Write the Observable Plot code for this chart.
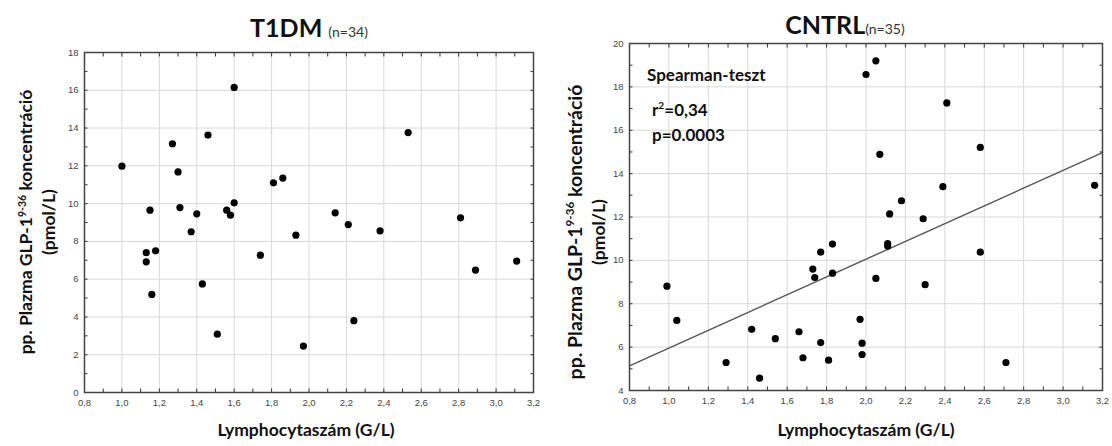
<!DOCTYPE html>
<html>
<head>
<meta charset="utf-8">
<script src="https://cdn.jsdelivr.net/npm/d3@7"></script>
<script src="https://cdn.jsdelivr.net/npm/@observablehq/plot@0.6"></script>
<style>
  html, body { margin: 0; padding: 0; background: #fff; }
  #root { position: relative; width: 1112px; height: 446px; overflow: hidden; font-family: Lato, "Open Sans", sans-serif; }
  .panel { position: absolute; top: 0; }
  .txt { position: absolute; white-space: nowrap; color: #111; }
  .title { font-weight: 700; font-size: 25px; transform: translate(-50%, -50%); }
  .title small { font-weight: 400; font-size: 14px; color: #333; }
  .xlab { font-weight: 700; font-size: 17.5px; transform: translate(-50%, -50%); }
  .ylab { font-weight: 700; text-align: center; line-height: 23px; transform: translate(-50%, -50%) rotate(-90deg); }
  .ann { font-weight: 700; font-size: 17px; transform: translateY(-50%); }
  sup { font-size: 0.6em; vertical-align: 0.6em; line-height: 0; }
</style>
</head>
<body>
<div id="root"></div>
<script>
// ---- Data ----
const t1dmX = [1.00, 1.13, 1.13, 1.18, 1.15, 1.16, 1.27, 1.30, 1.31, 1.37, 1.40, 1.43, 1.46, 1.51, 1.56, 1.58, 1.60, 1.60, 1.74, 1.81, 1.86, 1.93, 1.97, 2.14, 2.21, 2.24, 2.38, 2.53, 2.81, 2.89, 3.11];
const t1dmY = [11.98, 7.40, 6.92, 7.50, 9.65, 5.19, 13.17, 11.68, 9.79, 8.51, 9.46, 5.75, 13.63, 3.09, 9.65, 9.39, 10.04, 16.15, 7.27, 11.10, 11.35, 8.33, 2.46, 9.51, 8.89, 3.80, 8.56, 13.76, 9.25, 6.48, 6.96];

const cntrlX = [0.99, 1.04, 1.29, 1.42, 1.46, 1.54, 1.66, 1.68, 1.73, 1.74, 1.77, 1.77, 1.83, 1.83, 1.81, 1.97, 1.98, 1.98, 2.00, 2.05, 2.07, 2.41, 2.58, 2.39, 3.16, 2.18, 2.12, 2.29, 2.11, 2.11, 2.58, 2.05, 2.30, 2.71];
const cntrlY = [8.81, 7.23, 5.29, 6.82, 4.57, 6.39, 6.71, 5.51, 9.60, 9.21, 10.38, 6.21, 10.75, 9.41, 5.40, 7.28, 6.18, 5.66, 18.57, 19.20, 14.89, 17.26, 15.21, 13.40, 13.46, 12.75, 12.14, 11.92, 10.77, 10.66, 10.38, 9.17, 8.88, 5.29];

// regression line endpoints
const fitX = [0.8, 3.2];
const fitY = [5.14, 14.97];

// tick labels
const xTicks = [0.8, 1.0, 1.2, 1.4, 1.6, 1.8, 2.0, 2.2, 2.4, 2.6, 2.8, 3.0, 3.2];
const yTicksL = [0, 2, 4, 6, 8, 10, 12, 14, 16, 18];
const yTicksR = [4, 6, 8, 10, 12, 14, 16, 18, 20];
const xMinor = d3.range(8, 33).map(d => d / 10);
const yMinorL = d3.range(0, 19);
const yMinorR = d3.range(4, 21);

// ---- Build ----
const fmtX = d => d.toFixed(1).replace(".", ",");
const tickFont = {fontSize: 9.5, fill: "#444", fontFamily: "'Liberation Sans', Arial, sans-serif"};

function panel({xs, ys, yDomain, yTicks, yMinor, margins, fit}) {
  const pts = xs.map((x, i) => ({x, y: ys[i]}));
  const marks = [
    Plot.gridX(xTicks, {stroke: "#d9d9d9", strokeOpacity: 1, strokeWidth: 1}),
    Plot.gridY(yTicks, {stroke: "#d9d9d9", strokeOpacity: 1, strokeWidth: 1}),
    // inner ticks on all four sides
    Plot.axisX(xMinor, {anchor: "bottom", tickSize: -3.5, tickFormat: () => "", label: null, stroke: "#333"}),
    Plot.axisX(xMinor, {anchor: "top", tickSize: -3.5, tickFormat: () => "", label: null, stroke: "#333"}),
    Plot.axisY(yMinor, {anchor: "left", tickSize: -3.5, tickFormat: () => "", label: null, stroke: "#333"}),
    Plot.axisY(yMinor, {anchor: "right", tickSize: -3.5, tickFormat: () => "", label: null, stroke: "#333"}),
    // labels
    Plot.axisX(xTicks, {anchor: "bottom", tickSize: 0, tickPadding: 7, tickFormat: fmtX, label: null, ...tickFont}),
    Plot.axisY(yTicks, {anchor: "left", tickSize: 0, tickPadding: 6, tickFormat: d => String(d), label: null, ...tickFont}),
  ];
  if (fit) {
    const line = fit.x.map((x, i) => ({x, y: fit.y[i]}));
    marks.push(Plot.line(line, {x: "x", y: "y", stroke: "#555", strokeWidth: 1.4}));
  }
  marks.push(Plot.dot(pts, {x: "x", y: "y", r: 3.6, fill: "#000", stroke: "none"}));
  marks.push(Plot.frame({stroke: "#444", strokeWidth: 1.5}));
  return Plot.plot({
    width: 556, height: 446,
    ...margins,
    x: {domain: [0.8, 3.2]},
    y: {domain: yDomain},
    style: {background: "transparent", overflow: "visible"},
    marks
  });
}

const root = document.getElementById("root");

const left = panel({
  xs: t1dmX, ys: t1dmY, yDomain: [0, 18], yTicks: yTicksL, yMinor: yMinorL,
  margins: {marginLeft: 84, marginRight: 23, marginTop: 52, marginBottom: 54}
});
const lw = document.createElement("div"); lw.className = "panel"; lw.style.left = "0px"; lw.appendChild(left); root.appendChild(lw);

const right = panel({
  xs: cntrlX, ys: cntrlY, yDomain: [4, 20], yTicks: yTicksR, yMinor: yMinorR,
  margins: {marginLeft: 73, marginRight: 10, marginTop: 43, marginBottom: 56},
  fit: {x: fitX, y: fitY}
});
const rw = document.createElement("div"); rw.className = "panel"; rw.style.left = "556px"; rw.appendChild(right); root.appendChild(rw);

function addText(cls, html, x, y, extra = {}) {
  const d = document.createElement("div");
  d.className = "txt " + cls;
  d.innerHTML = html;
  d.style.left = x + "px"; d.style.top = y + "px";
  Object.assign(d.style, extra);
  root.appendChild(d);
}

addText("title", 'T1DM <small>(n=34)</small>', 309, 27);
addText("title", 'CNTRL<small>(n=35)</small>', 845, 24);
addText("xlab", 'Lymphocytaszám (G/L)', 306, 429);
addText("xlab", 'Lymphocytaszám (G/L)', 866, 429);
addText("ylab", '<span style="font-size:17.5px">pp. Plazma GLP-1<sup>9-36</sup> koncentráció</span><br><span style="font-size:17.5px">(pmol/L)</span>', 37, 222);
addText("ylab", '<span style="font-size:19.5px">pp. Plazma GLP-1<sup>9-36</sup> koncentráció</span><br><span style="font-size:17.5px">(pmol/L)</span>', 586, 232);
addText("ann", 'Spearman-teszt', 647, 74);
addText("ann", 'r<sup>2</sup>=0,34', 652, 109);
addText("ann", 'p=0.0003', 652, 134);
</script>
</body>
</html>
